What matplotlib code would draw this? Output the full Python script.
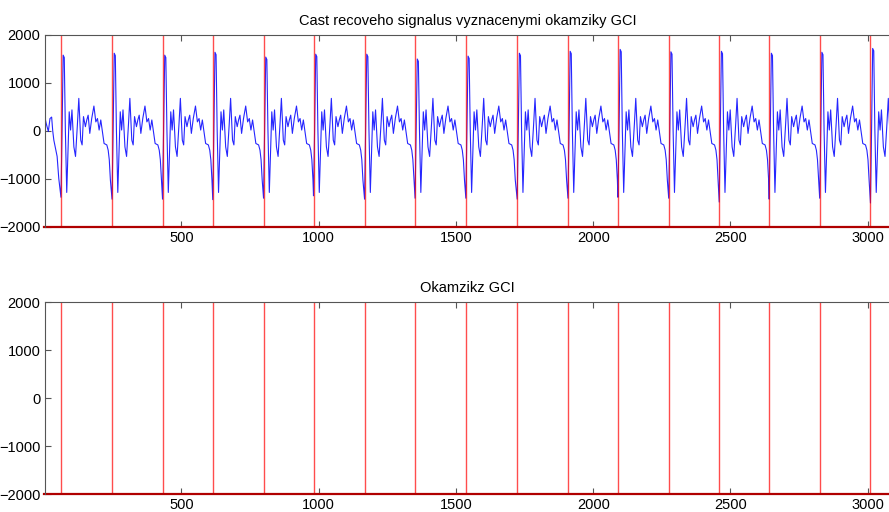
import numpy as np
import matplotlib
matplotlib.use('Agg')
import matplotlib.pyplot as plt

plt.rcParams['font.family'] = ['Liberation Sans', 'DejaVu Sans']

# GCI instants (samples)
gci = [61, 247, 431, 614, 799, 981, 1167, 1351, 1536, 1723,
       1908, 2090, 2275, 2459, 2641, 2825, 3010]

# per-period main peak and trough (at the GCI) of the speech signal
peaks = [1580, 1620, 1580, 1640, 1540, 1600, 1600, 1500, 1560, 1620,
         1660, 1700, 1650, 1660, 1620, 1640, 1720]
troughs = [-1380, -1420, -1420, -1430, -1400, -1350, -1420, -1400, -1400, -1420,
           -1400, -1380, -1400, -1480, -1420, -1400, -1500]

# shape of one pitch period, offsets in samples after the GCI
cycle_off = [0, 4, 8, 12, 16, 21, 27, 30, 35, 40, 47, 53, 60, 65, 72, 77, 82,
             89, 94, 99, 105, 112, 120, 127, 133, 139, 145, 150, 157, 167,
             172, 176, 180]
cycle_val = [None, 20, None, None, 20, -1280, -190, 400, 20, 440, -330, -530,
             150, 680, -190, -290, 300, 90, 230, 330, -50, 260, 520, 190, 260,
             20, 230, 20, -260, -290, -400, -600, -1020]

# signal before the first GCI
lead_x = [1, 7, 15, 21, 27, 31, 35, 41, 47, 53]
lead_y = [330, 160, -10, 260, 290, 0, -190, -360, -530, -990]

x_end = 3084

sig_x = list(lead_x)
sig_y = list(lead_y)
for i, g in enumerate(gci):
    nxt = gci[i + 1] if i + 1 < len(gci) else x_end + 1
    for off, v in zip(cycle_off, cycle_val):
        if g + off >= nxt:
            break
        if off == 0:
            v = troughs[i]
        elif off == 8:
            v = peaks[i]
        elif off == 12:
            v = peaks[i] - 50
        sig_x.append(g + off)
        sig_y.append(v)

fig = plt.figure(figsize=(8.89, 5.12), dpi=100)
ax1 = fig.add_axes([44.5 / 889, 1 - 227 / 512, 1 - 44.5 / 889 + 0.002, 192 / 512])
ax2 = fig.add_axes([44.5 / 889, 1 - 494 / 512, 1 - 44.5 / 889 + 0.002, 192 / 512])


def gci_marks(ax):
    for g in gci:
        ax.plot([g, g], [-2000, 2000], color='red', lw=1.0, alpha=0.7)
    ax.plot([0, x_end + 10], [-2000, -2000], color='#b00000', lw=1.6, clip_on=False)


ax1.plot(sig_x, sig_y, color='blue', lw=0.8, alpha=0.85)
gci_marks(ax1)
ax1.set_title('Cast recoveho signalus vyznacenymi okamziky GCI', fontsize=10.5, pad=7)

gci_marks(ax2)
ax2.set_title('Okamzikz GCI', fontsize=10.5, pad=7)

for ax in (ax1, ax2):
    ax.set_xlim(1, x_end)
    ax.set_ylim(-2000, 2000)
    ax.set_xticks([500, 1000, 1500, 2000, 2500, 3000])
    ax.set_yticks([-2000, -1000, 0, 1000, 2000])
    ax.tick_params(direction='in', length=4, color='#555555', labelsize=10.5,
                   top=True, right=False, pad=3)
    for s in ('top', 'left'):
        ax.spines[s].set_color('#555555')
    ax.spines['right'].set_visible(False)
    ax.spines['bottom'].set_visible(False)

plt.savefig('out.png', dpi=100)
